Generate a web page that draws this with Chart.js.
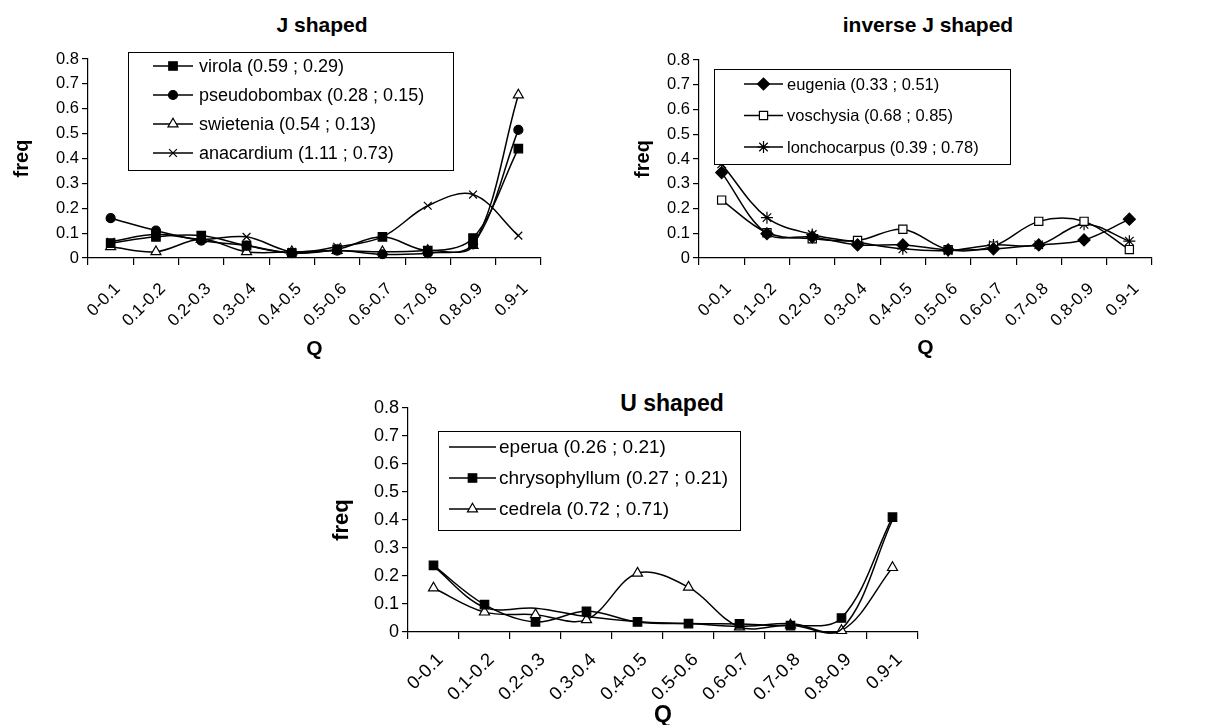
<!DOCTYPE html>
<html>
<head>
<meta charset="utf-8">
<title>Q frequency distributions</title>
<script src="https://cdn.jsdelivr.net/npm/chart.js@4.4.1/dist/chart.umd.min.js"></script>
<style>
    body { margin: 0; background: #fff; }
    #page { position: relative; width: 1232px; height: 725px; overflow: hidden; background: #fff; }
    #page canvas { position: absolute; }
    .chart-title {
        position: absolute;
        width: 300px;
        text-align: center;
        font-family: 'Liberation Sans', Arial, sans-serif;
        font-weight: bold;
        line-height: 1;
        color: #000;
    }
</style>
</head>
<body>
<div id="page">
    <div class="chart-title" style="left:172px; top:14px; font-size:21px;">J shaped</div>
    <div class="chart-title" style="left:778px; top:14px; font-size:21px;">inverse J shaped</div>
    <div class="chart-title" style="left:522px; top:392px; font-size:23px;">U shaped</div>
    <canvas id="chartJ" width="560" height="372" style="left:0; top:0;"></canvas>
    <canvas id="chartInvJ" width="560" height="372" style="left:620px; top:0;"></canvas>
    <canvas id="chartU" width="650" height="350" style="left:300px; top:380px;"></canvas>
</div>
<script>
// Q classes (x axis) and freq ticks (y axis)
const qClasses = ['0-0.1', '0.1-0.2', '0.2-0.3', '0.3-0.4', '0.4-0.5', '0.5-0.6', '0.6-0.7', '0.7-0.8', '0.8-0.9', '0.9-1'];
const freqTicks = [0, 0.1, 0.2, 0.3, 0.4, 0.5, 0.6, 0.7, 0.8];

// J shaped
const jLabels = ['virola (0.59 ; 0.29)', 'pseudobombax (0.28 ; 0.15)', 'swietenia (0.54 ; 0.13)', 'anacardium (1.11 ; 0.73)'];
const virola       = [0.06, 0.085, 0.09, 0.05, 0.02, 0.035, 0.085, 0.03, 0.08, 0.44];
const pseudobombax = [0.16, 0.11, 0.07, 0.05, 0.02, 0.03, 0.015, 0.02, 0.055, 0.515];
const swietenia    = [0.045, 0.025, 0.075, 0.025, 0.025, 0.03, 0.025, 0.03, 0.05, 0.655];
const anacardium   = [0.065, 0.095, 0.075, 0.085, 0.025, 0.045, 0.085, 0.21, 0.255, 0.09];

// inverse J shaped
const invJLabels = ['eugenia (0.33 ; 0.51)', 'voschysia (0.68 ; 0.85)', 'lonchocarpus (0.39 ; 0.78)'];
const eugenia      = [0.345, 0.098, 0.085, 0.053, 0.053, 0.033, 0.037, 0.053, 0.073, 0.157];
const voschysia    = [0.234, 0.102, 0.078, 0.071, 0.116, 0.034, 0.048, 0.148, 0.148, 0.034];
const lonchocarpus = [0.38, 0.163, 0.095, 0.064, 0.037, 0.03, 0.053, 0.053, 0.136, 0.068];

// U shaped
const uLabels = ['eperua (0.26 ; 0.21)', 'chrysophyllum (0.27 ; 0.21)', 'cedrela (0.72 ; 0.71)'];
const eperua        = [0.235, 0.088, 0.085, 0.055, 0.037, 0.03, 0.02, 0.03, 0.01, 0.40];
const chrysophyllum = [0.238, 0.098, 0.036, 0.074, 0.036, 0.03, 0.029, 0.023, 0.05, 0.41];
const cedrela       = [0.157, 0.071, 0.062, 0.044, 0.21, 0.16, 0.018, 0.025, 0.005, 0.23];

const FONT = "'Liberation Sans', Arial, sans-serif";
Chart.defaults.color = '#000';
Chart.defaults.font.family = FONT;

// marker styles, Excel look
const MARK = {
    square:    { pointStyle: 'rect', fill: '#000', r: 6 },
    circle:    { pointStyle: 'circle', fill: '#000', r: 4.5 },
    triangle:  { pointStyle: 'triangle', fill: '#fff', r: 5.8 },
    cross:     { pointStyle: 'crossRot', fill: '#000', r: 5.5 },
    diamond:   { pointStyle: 'rectRot', fill: '#000', r: 6 },
    openSquare:{ pointStyle: 'rect', fill: '#fff', r: 5.8 },
    star:      { pointStyle: 'star', fill: '#000', r: 6 },
    none:      null
};

function makeDataset(label, data, mark) {
    const m = MARK[mark];
    return {
        label,
        data,
        borderColor: '#000',
        borderWidth: 1.5,
        tension: 0.35,
        fill: false,
        clip: 12,
        pointStyle: m ? m.pointStyle : false,
        pointRadius: m ? m.r : 0,
        pointHoverRadius: m ? m.r : 0,
        pointBackgroundColor: m ? m.fill : '#000',
        pointBorderColor: '#000',
        pointBorderWidth: 1.2
    };
}

// Legend drawn as a boxed block inside the plot, like the Excel original
const boxLegend = {
    id: 'boxLegend',
    afterDatasetsDraw(chart, args, opts) {
        const ctx = chart.ctx;
        ctx.save();
        ctx.fillStyle = '#fff';
        ctx.fillRect(opts.left, opts.top, opts.width, opts.height);
        ctx.strokeStyle = '#000';
        ctx.lineWidth = 1;
        ctx.strokeRect(opts.left + 0.5, opts.top + 0.5, opts.width, opts.height);
        ctx.font = opts.fontSize + 'px ' + FONT;
        ctx.textBaseline = 'middle';
        ctx.textAlign = 'left';

        chart.data.datasets.forEach((ds, i) => {
            const y = opts.firstRow + i * opts.rowGap;
            ctx.beginPath();
            ctx.moveTo(opts.lineStart, y);
            ctx.lineTo(opts.lineEnd, y);
            ctx.strokeStyle = '#000';
            ctx.lineWidth = ds.borderWidth;
            ctx.stroke();

            if (ds.pointStyle && ds.pointRadius > 0) {
                ctx.fillStyle = ds.pointBackgroundColor;
                ctx.strokeStyle = ds.pointBorderColor;
                ctx.lineWidth = ds.pointBorderWidth;
                Chart.helpers.drawPoint(ctx, {
                    pointStyle: ds.pointStyle,
                    radius: ds.pointRadius,
                    rotation: 0,
                    borderWidth: ds.pointBorderWidth
                }, (opts.lineStart + opts.lineEnd) / 2, y);
            }

            ctx.fillStyle = '#000';
            ctx.fillText(ds.label, opts.textX, y + 1);
        });
        ctx.restore();
    }
};

function buildChart(canvasId, datasets, frame) {
    const ctx = document.getElementById(canvasId);
    return new Chart(ctx, {
        type: 'line',
        data: { labels: qClasses, datasets },
        options: {
            responsive: false,
            animation: false,
            devicePixelRatio: 1,
            events: [],
            layout: {
                padding: { left: 0, top: frame.areaTop, right: frame.padRight, bottom: 0 }
            },
            elements: {
                line: { capBezierPoints: false }
            },
            plugins: {
                legend: { display: false },
                title: { display: false },
                tooltip: { enabled: false },
                boxLegend: frame.legend
            },
            scales: {
                x: {
                    type: 'category',
                    offset: true,
                    afterFit: scale => { scale.height = frame.xHeight; },
                    border: { display: true, color: '#000', width: 1.2 },
                    grid: {
                        display: true,
                        offset: true,
                        drawOnChartArea: false,
                        drawTicks: true,
                        tickLength: 7,
                        color: '#000',
                        lineWidth: 1.2
                    },
                    ticks: {
                        autoSkip: false,
                        minRotation: 45,
                        maxRotation: 45,
                        padding: frame.xTickPad,
                        labelOffset: 7,
                        color: '#000',
                        font: { size: frame.xTickSize }
                    },
                    title: {
                        display: true,
                        text: 'Q',
                        color: '#000',
                        font: { size: frame.qSize, weight: 'bold' },
                        padding: { top: 0, bottom: frame.qPad }
                    }
                },
                y: {
                    min: freqTicks[0],
                    max: freqTicks[freqTicks.length - 1],
                    afterBuildTicks: scale => {
                        scale.ticks = freqTicks.map(v => ({ value: v }));
                    },
                    afterFit: scale => { scale.width = frame.yWidth; },
                    border: { display: true, color: '#000', width: 1.2 },
                    grid: {
                        display: true,
                        drawOnChartArea: false,
                        drawTicks: true,
                        tickLength: 6,
                        color: '#000',
                        lineWidth: 1.2
                    },
                    ticks: {
                        padding: 3,
                        color: '#000',
                        font: { size: frame.tickSize }
                    },
                    title: {
                        display: true,
                        text: 'freq',
                        color: '#000',
                        font: { size: frame.freqSize, weight: 'bold' },
                        padding: { top: frame.freqPad, bottom: 0 }
                    }
                }
            }
        },
        plugins: [boxLegend]
    });
}

buildChart('chartJ', [
    makeDataset(jLabels[0], virola, 'square'),
    makeDataset(jLabels[1], pseudobombax, 'circle'),
    makeDataset(jLabels[2], swietenia, 'triangle'),
    makeDataset(jLabels[3], anacardium, 'cross')
], {
    areaTop: 59, padRight: 19, yWidth: 88, xHeight: 114,
    tickSize: 16.5, xTickSize: 17, xTickPad: 14, qSize: 21, qPad: 10, freqSize: 20, freqPad: 10,
    legend: { left: 128, top: 52, width: 325, height: 118, firstRow: 66, rowGap: 29,
              lineStart: 153, lineEnd: 193, textX: 199, fontSize: 18 }
});

buildChart('chartInvJ', [
    makeDataset(invJLabels[0], eugenia, 'diamond'),
    makeDataset(invJLabels[1], voschysia, 'openSquare'),
    makeDataset(invJLabels[2], lonchocarpus, 'star')
], {
    areaTop: 60, padRight: 28, yWidth: 79, xHeight: 114,
    tickSize: 16.5, xTickSize: 17, xTickPad: 14, qSize: 21, qPad: 11, freqSize: 20, freqPad: 11,
    legend: { left: 94, top: 69, width: 296, height: 95, firstRow: 84, rowGap: 31.5,
              lineStart: 124, lineEnd: 163, textX: 167, fontSize: 16.5 }
});

buildChart('chartU', [
    makeDataset(uLabels[0], eperua, 'none'),
    makeDataset(uLabels[1], chrysophyllum, 'square'),
    makeDataset(uLabels[2], cedrela, 'triangle')
], {
    areaTop: 28, padRight: 32, yWidth: 108, xHeight: 98,
    tickSize: 18, xTickSize: 18.5, xTickPad: 10, qSize: 23, qPad: 1, freqSize: 22, freqPad: 29,
    legend: { left: 138, top: 51, width: 302, height: 99, firstRow: 67, rowGap: 31,
              lineStart: 149, lineEnd: 196, textX: 199, fontSize: 19 }
});
</script>
</body>
</html>
